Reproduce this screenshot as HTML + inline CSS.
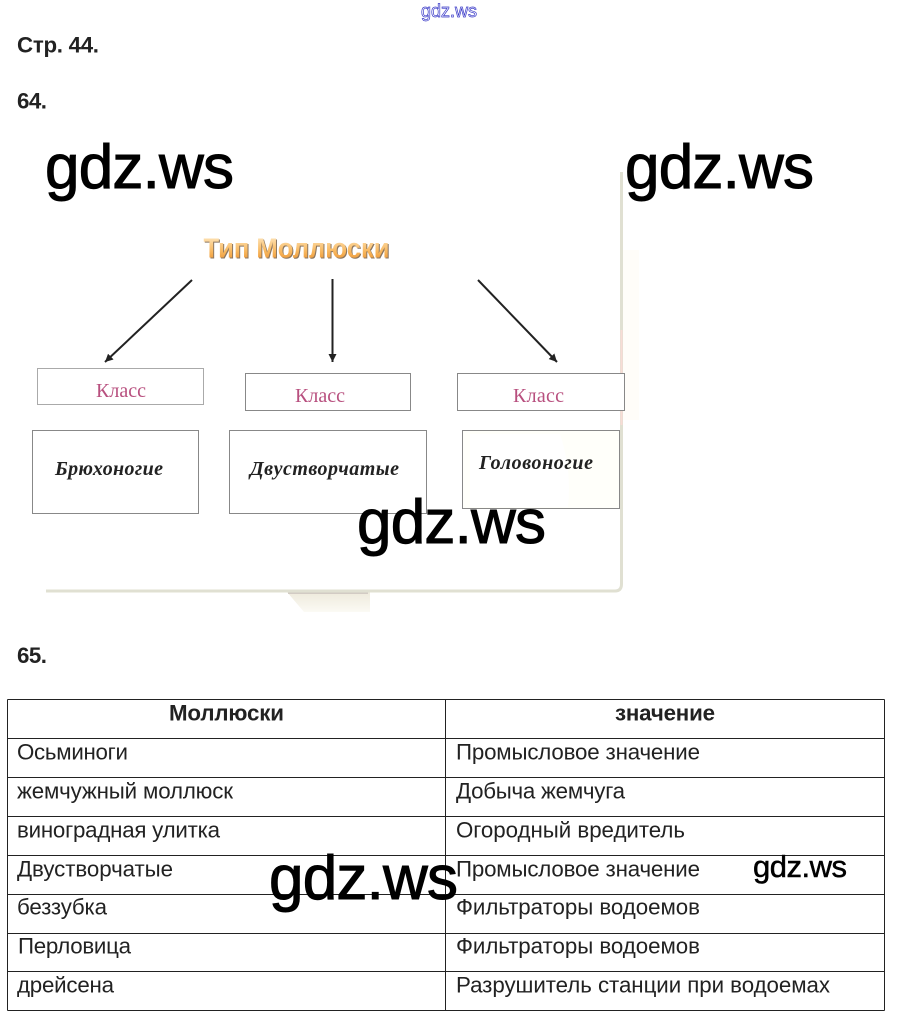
<!DOCTYPE html>
<html lang="ru"><head><meta charset="utf-8"><title>Стр. 44</title>
<style>html,body{margin:0;padding:0;background:#fff}svg{display:block}
.a{font-family:"Liberation Sans",sans-serif;font-size:22.3px;fill:#222}
.b{font-family:"Liberation Sans",sans-serif;font-size:22.3px;font-weight:bold;fill:#222}
.w{font-family:"Liberation Sans",sans-serif;fill:#000;stroke:#000;stroke-width:1}
.k{font-family:"Liberation Serif",serif;font-size:20px;fill:#b8507f}
.i{font-family:"Liberation Serif",serif;font-size:20px;font-style:italic;font-weight:bold;fill:#222}
</style></head><body>
<svg width="898" height="1026" viewBox="0 0 898 1026" xmlns="http://www.w3.org/2000/svg">
<defs><linearGradient id="g" x1="0" y1="0" x2="0" y2="1"><stop offset="0" stop-color="#fff0d0"/><stop offset=".6" stop-color="#f8b860"/><stop offset="1" stop-color="#e88c28"/></linearGradient>
<linearGradient id="t" x1="0" y1="0" x2="0" y2="1"><stop offset="0" stop-color="#eeeadc"/><stop offset="1" stop-color="#fbfaf4"/></linearGradient>
<marker id="m" markerWidth="10" markerHeight="10" refX="8" refY="4" orient="auto" markerUnits="userSpaceOnUse"><path d="M0 0L8 4L0 8Z" fill="#222"/></marker></defs>
<rect width="898" height="1026" fill="#fff"/>
<text x="421" y="17" font-family="Liberation Sans,sans-serif" font-size="18" fill="#fff" stroke="#3a3ac8" stroke-width=".7" textLength="56">gdz.ws</text>
<text class="b" x="17" y="52.500" textLength="82">Стр. 44.</text>
<text class="b" x="17" y="108.500" textLength="30">64.</text>
<text class="b" x="17" y="663" textLength="30">65.</text>

<path d="M287 592H370V612H304Z" fill="url(#t)"/><rect x="288" y="590" width="80" height="4" fill="#d2cbc4"/>
<path d="M621.500 172V584Q621.500 591 615 591H46" fill="none" stroke="#e0e0d2" stroke-width="3"/>
<rect x="620.500" y="330" width="2" height="95" fill="#f8dcd6"/>
<rect x="623" y="250" width="16" height="170" fill="#fffdf9"/>

<text x="204.500" y="258.500" font-family="Liberation Sans,sans-serif" font-weight="bold" font-size="28" fill="#8a7560" textLength="186" lengthAdjust="spacingAndGlyphs">Тип Моллюски</text>
<text x="203.500" y="257.500" font-family="Liberation Sans,sans-serif" font-weight="bold" font-size="28" fill="url(#g)" textLength="186" lengthAdjust="spacingAndGlyphs">Тип Моллюски</text>

<g stroke="#222" stroke-width="2" fill="none">
<path d="M192 280L105 362" marker-end="url(#m)"/><path d="M332.500 279V362" marker-end="url(#m)"/><path d="M478 280L557 362" marker-end="url(#m)"/></g>

<g fill="#fff" stroke="#888" stroke-width="1">
<rect x="37.500" y="368.500" width="166" height="36" stroke="#aaa"/>
<rect x="245.500" y="373.500" width="165" height="37"/>
<rect x="457.500" y="373.500" width="167" height="37"/>
<rect x="32.500" y="430.500" width="166" height="83"/>
<rect x="229.500" y="430.500" width="197" height="83"/>
<rect x="462.500" y="430.500" width="157" height="78" fill="#fffffa"/></g>
<path d="M470 434H560Q572 470 568 507H470Z" fill="#fff"/>
<text class="k" x="96" y="397" textLength="50">Класс</text>
<text class="k" x="295" y="402" textLength="50">Класс</text>
<text class="k" x="513" y="402" textLength="51">Класс</text>
<text class="i" x="55" y="475" textLength="108">Брюхоногие</text>
<text class="i" x="250" y="475" textLength="149" font-weight="normal">Двустворчатые</text>
<text class="i" x="479" y="469" textLength="114">Головоногие</text>

<g stroke="#222" stroke-width="1" fill="none">
<path d="M7.500 699.500H884.500M7.500 738.500H884.500M7.500 777.500H884.500M7.500 816.500H884.500M7.500 855.500H884.500M7.500 894.500H884.500M7.500 933.500H884.500M7.500 971.500H884.500M7.500 1010.500H884.500M7.500 699.500V1010.500M445.500 699.500V1010.500M884.500 699.500V1010.500"/></g>
<text class="b" x="169" y="720.500" textLength="115">Моллюски</text>
<text class="b" x="615" y="720.500" textLength="100">значение</text>
<text class="a" x="17" y="759.500" textLength="111">Осьминоги</text>
<text class="a" x="17" y="798.500" textLength="216">жемчужный моллюск</text>
<text class="a" x="17" y="837.500" textLength="203">виноградная улитка</text>
<text class="a" x="17" y="876.500" textLength="156">Двустворчатые</text>
<text class="a" x="17" y="914.500" textLength="90">беззубка</text>
<text class="a" x="18" y="953.500" textLength="113">Перловица</text>
<text class="a" x="17" y="992.500" textLength="97">дрейсена</text>
<text class="a" x="456" y="759.500" textLength="244">Промысловое значение</text>
<text class="a" x="456" y="798.500" textLength="169">Добыча жемчуга</text>
<text class="a" x="456" y="837.500" textLength="229">Огородный вредитель</text>
<text class="a" x="456" y="876.500" textLength="244">Промысловое значение</text>
<text class="a" x="456" y="914.500" textLength="244">Фильтраторы водоемов</text>
<text class="a" x="456" y="953.500" textLength="244">Фильтраторы водоемов</text>
<text class="a" x="456" y="992.500" textLength="374">Разрушитель станции при водоемах</text>

<text class="w" x="45" y="188" font-size="62" textLength="189">gdz.ws</text>
<text class="w" x="625" y="188" font-size="62" textLength="189">gdz.ws</text>
<text class="w" x="357" y="543" font-size="62" textLength="189">gdz.ws</text>
<text class="w" x="269" y="899" font-size="62" textLength="189">gdz.ws</text>
<text class="w" x="753" y="877" font-size="31" textLength="94" style="stroke-width:.5">gdz.ws</text>
</svg></body></html>
